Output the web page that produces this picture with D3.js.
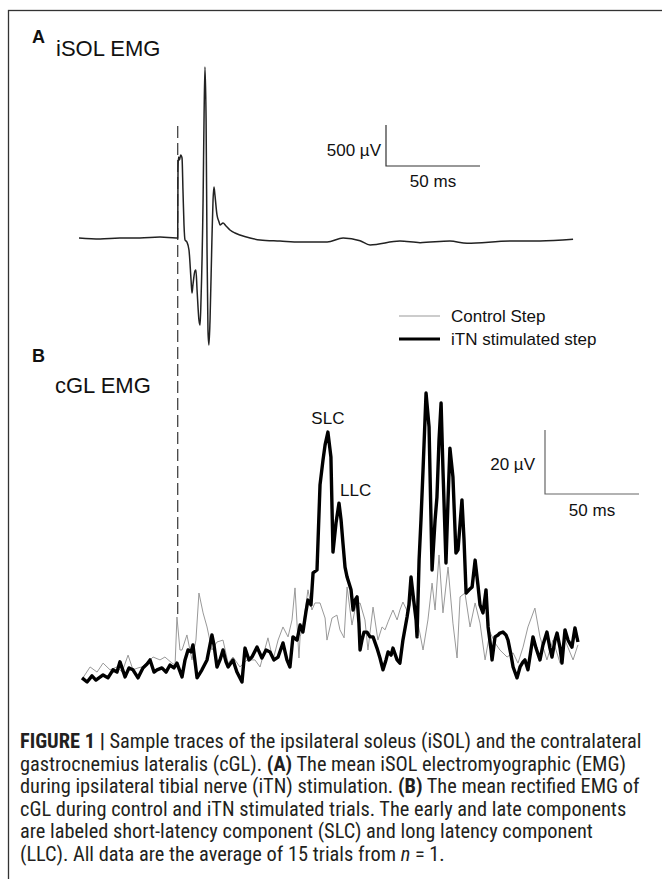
<!DOCTYPE html>
<html>
<head>
<meta charset="utf-8">
<script src="https://cdn.jsdelivr.net/npm/d3@7"></script>
<style>
  body { margin: 0; background: #fff; }
  svg { display: block; font-family: "Liberation Sans", Arial, sans-serif; }
</style>
</head>
<body>
<script>
// iSOL EMG, time (ms from stimulus) and amplitude (uV)
const isolTime = [-52.5, -41.3, -30.7, -20.1, -9.4, -0.9, 0, 0.16, 0.43, 0.96, 1.6, 2.3, 2.8, 3.35, 3.9, 4.9, 6.0, 7.1, 7.6, 8.1, 9.2, 9.7, 10.3, 11.3, 11.9, 12.4, 13.5, 14.0, 14.5, 15.1, 15.6, 16.1, 16.6, 17.2, 18.2, 18.8, 19.3, 19.8, 20.9, 22.0, 22.5, 24.1, 25.7, 27.8, 30.5, 33.1, 38.5, 43.8, 54.4, 65.1, 79.5, 88.0, 97.0, 102.3, 118.2, 128.9, 144.8, 153.9, 176.8, 192.7, 210.3];
const isolValue = [0, -12, 0, 0, 12, 0, 0, 830, 988, 952, 1013, 976, 586, 159, -24, -49, -146, -512, -671, -573, -400, -390, -634, -1000, -1062, -756, 464, 1440, 2086, 1440, -146, -1122, -1305, -1000, -24, 464, 622, 525, 281, 195, 159, 183, 146, 98, 61, 37, 0, -24, -37, -49, -49, 0, -33, -85, -37, -57, -37, -65, -37, -37, -16];

// cGL rectified EMG [ms, uV]
const stimulated = [[-50.9,3.8],[-48.2,2.5],[-45.6,4.4],[-43.5,3.1],[-39.7,4.7],[-37.1,3.8],[-34.4,6.3],[-32.3,5.6],[-30.7,8.8],[-28.0,4.1],[-25.9,6.9],[-23.8,6.3],[-21.1,3.8],[-18.5,6.9],[-16.3,8.1],[-14.7,9.4],[-12.6,5.6],[-11.0,6.3],[-8.4,6.9],[-6.2,5.6],[-4.1,7.8],[-2.0,6.9],[-0.4,8.4],[2.3,4.1],[3.9,9.4],[5.5,12.5],[7.1,11.9],[8.1,14.1],[10.3,3.8],[12.9,6.3],[15.6,9.4],[18.2,17.2],[19.3,14.1],[20.9,7.2],[22.5,9.4],[24.1,12.5],[25.7,8.8],[26.8,7.2],[29.4,9.4],[31.5,5.6],[34.2,2.5],[35.8,13.1],[37.9,9.4],[39.5,10.3],[42.2,13.4],[44.8,10.0],[47.0,12.5],[49.1,11.9],[51.2,9.4],[53.4,10.3],[56.0,14.7],[58.1,9.4],[59.7,7.2],[61.3,16.6],[63.5,15.6],[65.1,20.3],[66.6,18.1],[68.2,24.4],[69.3,28.1],[70.9,26.6],[72.0,36.6],[74.1,37.5],[75.7,64.1],[77.3,71.9],[78.4,76.6],[79.9,80.6],[81.5,72.8],[82.6,43.1],[84.2,52.2],[85.8,58.4],[86.9,53.1],[87.9,45.9],[89.0,38.4],[90.1,35.3],[91.1,33.4],[92.2,31.3],[93.3,25.0],[94.3,28.1],[95.4,29.1],[96.4,20.9],[97.0,12.5],[98.0,15.6],[99.1,18.1],[100.7,18.1],[102.3,16.6],[103.9,16.6],[106.0,13.1],[107.6,10.0],[109.2,6.3],[110.8,9.4],[111.9,11.9],[113.5,10.9],[114.5,13.1],[116.7,9.4],[118.2,8.4],[119.8,15.6],[122.0,22.8],[123.0,26.6],[124.1,35.3],[125.7,27.2],[126.8,21.9],[127.3,16.6],[128.4,40.6],[129.4,53.1],[130.5,68.8],[132.1,92.8],[133.7,82.2],[135.3,37.5],[136.9,53.1],[137.9,60.3],[139.0,78.1],[140.1,89.7],[141.1,68.8],[142.7,39.7],[143.8,59.4],[144.8,75.6],[146.4,66.6],[148.0,42.8],[149.1,43.8],[151.2,59.4],[152.3,46.9],[153.4,30.3],[155.0,31.3],[156.6,32.2],[158.2,40.6],[159.7,32.8],[160.8,26.6],[162.4,24.1],[164.0,31.3],[165.1,19.7],[166.7,12.5],[167.2,9.4],[168.8,16.6],[170.4,17.2],[171.4,17.8],[173.0,18.1],[174.6,17.2],[175.7,15.6],[177.3,10.9],[178.4,7.2],[180.5,3.8],[182.1,7.2],[183.7,8.8],[184.7,9.4],[186.3,6.3],[187.9,12.5],[189.0,16.6],[190.6,13.1],[192.7,9.4],[194.3,14.1],[196.4,18.1],[198.0,13.1],[199.1,10.3],[200.7,15.6],[201.8,17.8],[203.4,13.1],[204.4,8.4],[206.0,18.8],[207.6,15.6],[209.7,13.4],[211.3,19.4],[212.9,15.0]];

const control = [[-50.4,3.8],[-46.6,7.2],[-42.9,5.6],[-39.7,8.4],[-36.0,6.3],[-32.3,7.2],[-29.6,5.6],[-26.4,10.9],[-23.8,6.3],[-21.1,6.9],[-19.0,7.2],[-15.8,8.8],[-13.1,10.3],[-9.4,9.4],[-6.8,10.3],[-3.0,8.4],[-1.4,7.8],[-0.4,22.8],[1.2,12.5],[2.3,12.5],[4.9,17.2],[7.6,9.4],[9.7,15.6],[11.3,30.3],[13.5,24.1],[15.6,19.7],[18.2,12.5],[20.9,15.0],[24.1,15.6],[26.8,8.4],[29.4,10.3],[33.1,7.2],[36.9,9.4],[41.1,9.4],[43.8,7.2],[48.0,16.3],[50.7,9.4],[53.4,15.6],[56.0,19.7],[58.7,16.6],[60.8,21.9],[62.4,31.9],[64.5,10.0],[65.1,16.6],[66.6,19.7],[69.3,31.3],[71.4,25.0],[73.0,27.2],[75.7,27.2],[78.4,22.5],[79.4,15.6],[82.1,22.5],[84.7,23.4],[86.3,18.8],[88.5,16.3],[90.1,32.2],[92.7,20.3],[94.8,26.6],[97.0,27.2],[99.6,21.9],[101.2,12.5],[103.9,25.9],[106.5,15.6],[108.7,19.7],[110.3,18.8],[111.9,21.3],[114.5,25.0],[116.7,21.9],[118.2,25.0],[119.8,27.5],[122.5,24.1],[125.1,30.3],[127.8,20.9],[130.5,12.5],[133.1,21.9],[135.3,33.4],[136.9,25.0],[139.0,42.2],[141.1,24.1],[143.8,38.4],[146.4,20.9],[148.6,10.0],[150.2,29.1],[152.8,30.3],[155.5,19.7],[158.2,27.2],[160.8,20.9],[163.5,9.4],[166.1,18.1],[168.8,14.7],[171.4,12.5],[175.2,10.3],[178.4,11.6],[181.0,8.4],[183.7,13.4],[186.3,19.7],[190.0,25.6],[192.7,16.6],[196.4,9.4],[199.6,15.6],[203.4,8.4],[206.0,15.6],[210.3,9.4],[212.9,14.1]];

const seriesNames = ['Control Step', 'iTN stimulated step'];
const peakLabels = [['SLC', 79.9, 80.6], ['LLC', 85.8, 58.4]];
const scaleBarA = { uV: 500, ms: 50 };
const scaleBarB = { uV: 20, ms: 50 };

const captionLines = [
  [['FIGURE 1 | ', 'b'], ['Sample traces of the ipsilateral soleus (iSOL) and the contralateral', '']],
  [['gastrocnemius lateralis (cGL). ', ''], ['(A)', 'b'], [' The mean iSOL electromyographic (EMG)', '']],
  [['during ipsilateral tibial nerve (iTN) stimulation. ', ''], ['(B)', 'b'], [' The mean rectified EMG of', '']],
  [['cGL during control and iTN stimulated trials. The early and late components', '']],
  [['are labeled short-latency component (SLC) and long latency component', '']],
  [['(LLC). All data are the average of 15 trials from ', ''], ['n', 'i'], [' = 1.', '']]
];

const width = 662, height = 879;

const svg = d3.select('body').append('svg')
    .attr('width', width)
    .attr('height', height);

// frame
svg.append('rect')
    .attr('x', 8.5).attr('y', 10.5)
    .attr('width', 700).attr('height', 900)
    .attr('fill', 'none')
    .attr('stroke', '#333')
    .attr('stroke-width', 1.3);

// shared time scale (50 ms = 94 px)
const x = d3.scaleLinear().domain([-55, 215]).range([74.3, 581.9]);
const yA = d3.scaleLinear().domain([0, 500]).range([238, 197]);
const yB = d3.scaleLinear().domain([0, 20]).range([690, 626]);

// stimulus marker
svg.append('line')
    .attr('x1', x(0)).attr('x2', x(0))
    .attr('y1', 126).attr('y2', 614)
    .attr('stroke', '#444')
    .attr('stroke-width', 1.3)
    .attr('stroke-dasharray', '12,5');

// panel A
svg.append('text').attr('x', 32).attr('y', 43)
    .attr('font-size', 18).attr('font-weight', 'bold').attr('fill', '#111').text('A');
svg.append('text').attr('x', 56).attr('y', 56)
    .attr('font-size', 22).attr('fill', '#111').text('iSOL EMG');

const isolLine = d3.line()
    .x(i => x(isolTime[i]))
    .y(i => yA(isolValue[i]))
    .curve(d3.curveMonotoneX);

svg.append('path')
    .attr('d', isolLine(d3.range(isolTime.length)))
    .attr('fill', 'none')
    .attr('stroke', '#222')
    .attr('stroke-width', 1.5);

// scale bar A
const barA = svg.append('g').attr('transform', 'translate(386,166)');
barA.append('path')
    .attr('d', `M0,${yA(scaleBarA.uV) - yA(0)}V0H${x(scaleBarA.ms) - x(0)}`)
    .attr('fill', 'none').attr('stroke', '#333').attr('stroke-width', 1.2);
barA.append('text').attr('x', -5).attr('y', -10)
    .attr('text-anchor', 'end').attr('font-size', 17).attr('fill', '#111')
    .text(scaleBarA.uV + ' \u00b5V');
barA.append('text').attr('x', (x(scaleBarA.ms) - x(0)) / 2).attr('y', 21)
    .attr('text-anchor', 'middle').attr('font-size', 17).attr('fill', '#111')
    .text(scaleBarA.ms + ' ms');

// legend
const legend = svg.append('g').attr('transform', 'translate(399,316)');
seriesNames.forEach((name, i) => {
  legend.append('line')
      .attr('x1', 0).attr('x2', 41)
      .attr('y1', i * 23).attr('y2', i * 23)
      .attr('stroke', i ? '#000' : '#999')
      .attr('stroke-width', i ? 3 : 1);
  legend.append('text')
      .attr('x', 52).attr('y', i * 23 + 6)
      .attr('font-size', 17).attr('fill', '#111')
      .text(name);
});

// panel B
svg.append('text').attr('x', 32).attr('y', 362)
    .attr('font-size', 18).attr('font-weight', 'bold').attr('fill', '#111').text('B');
svg.append('text').attr('x', 55).attr('y', 393)
    .attr('font-size', 22).attr('fill', '#111').text('cGL EMG');

const traceB = d3.line()
    .x(d => x(d[0]))
    .y(d => yB(d[1]));

svg.append('path')
    .attr('d', traceB(control))
    .attr('fill', 'none')
    .attr('stroke', '#999')
    .attr('stroke-width', 1);

svg.append('path')
    .attr('d', traceB(stimulated))
    .attr('fill', 'none')
    .attr('stroke', '#000')
    .attr('stroke-width', 3.4)
    .attr('stroke-linejoin', 'round');

svg.selectAll('.peak')
  .data(peakLabels)
  .enter().append('text')
    .attr('class', 'peak')
    .attr('x', (d, i) => i ? x(d[1]) + 1 : x(d[1]))
    .attr('y', (d, i) => yB(d[2]) - (i ? 7 : 8))
    .attr('text-anchor', (d, i) => i ? 'start' : 'middle')
    .attr('font-size', 17).attr('fill', '#111')
    .text(d => d[0]);

// scale bar B
const barB = svg.append('g').attr('transform', 'translate(545,494)');
barB.append('path')
    .attr('d', `M0,${yB(scaleBarB.uV) - yB(0)}V0H${x(scaleBarB.ms) - x(0)}`)
    .attr('fill', 'none').attr('stroke', '#666').attr('stroke-width', 1.2);
barB.append('text').attr('x', -10).attr('y', -24)
    .attr('text-anchor', 'end').attr('font-size', 17).attr('fill', '#111')
    .text(scaleBarB.uV + ' \u00b5V');
barB.append('text').attr('x', (x(scaleBarB.ms) - x(0)) / 2).attr('y', 22)
    .attr('text-anchor', 'middle').attr('font-size', 17).attr('fill', '#111')
    .text(scaleBarB.ms + ' ms');

// caption
const caption = svg.append('g')
    .attr('font-family', '"Liberation Sans Narrow", "Roboto Condensed", "Liberation Sans", Arial, sans-serif')
    .attr('fill', '#231f20');

const capText = captionLines.map((segs, i) => {
  const t = caption.append('text')
      .attr('x', 20)
      .attr('y', 748 + i * 22.5)
      .attr('font-size', 17);
  segs.forEach(s => {
    t.append('tspan')
        .attr('font-weight', s[1] === 'b' ? 'bold' : null)
        .attr('font-style', s[1] === 'i' ? 'italic' : null)
        .text(s[0]);
  });
  return t;
});

// fit the first caption line to the column width
const w0 = capText[0].node().getComputedTextLength();
const fs = 17 * 622 / w0;
capText.forEach(t => t.attr('font-size', fs));
</script>
</body>
</html>
